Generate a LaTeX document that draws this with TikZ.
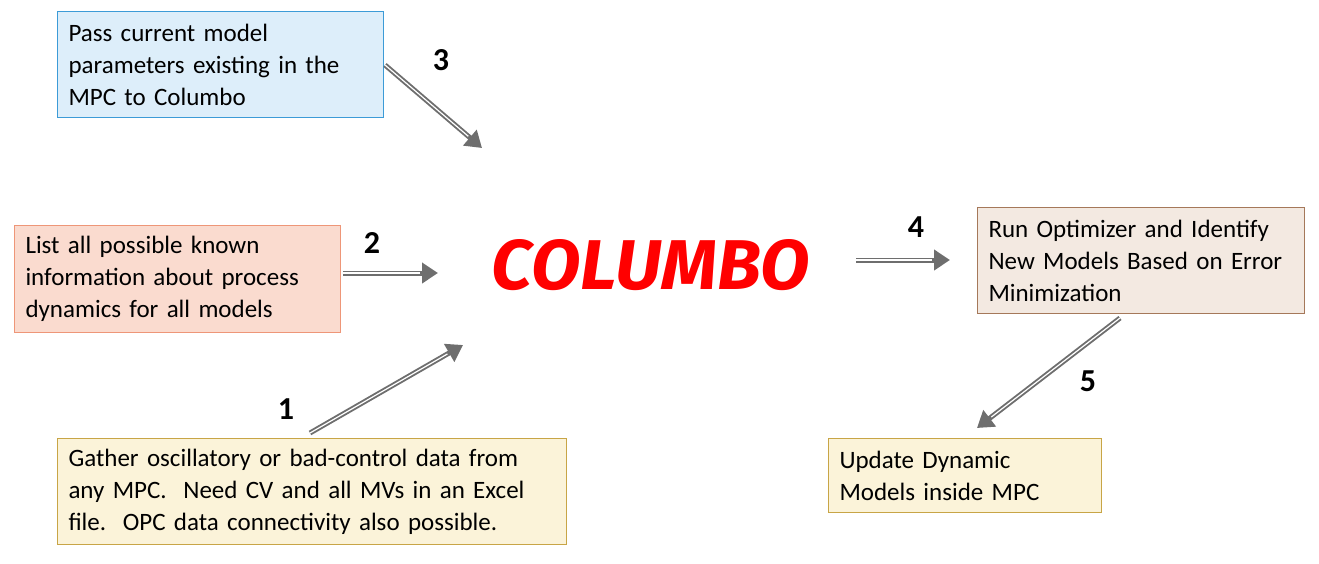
\documentclass[tikz,border=0pt]{standalone}
\usepackage{fontspec}
\setmainfont{Carlito}
\newfontfamily\colfont{Fira Sans}
\usetikzlibrary{arrows.meta}
\definecolor{gline}{HTML}{6E6E6E}
\tikzset{
  box/.style={draw, line width=1pt, anchor=north west, align=left, inner xsep=11pt, inner ysep=4pt, font=\fontsize{25}{32}\selectfont},
  num/.style={font=\fontsize{32}{32}\selectfont\bfseries},
  flow/.style={gline, line width=5pt, -{Triangle[length=16pt,width=20pt]}, shorten >=0pt},
  flowin/.style={white, line width=1.2pt}
}
\begin{document}
\begin{tikzpicture}[x=1pt,y=-1pt]
\useasboundingbox (0,0) rectangle (1319,563);
\node[box, fill={rgb,255:red,221;green,238;blue,250}, draw={rgb,255:red,60;green,155;blue,215}, text width=304pt, minimum height=106pt] (b3) at (57,11) {Pass current model\\parameters existing in the\\MPC to Columbo};
\node[box, fill={rgb,255:red,250;green,219;blue,207}, draw={rgb,255:red,238;green,150;blue,120}, text width=304pt, minimum height=107pt] (b2) at (14,225) {List all possible known\\information about process\\dynamics for all models};
\node[box, fill={rgb,255:red,251;green,243;blue,217}, draw={rgb,255:red,200;green,165;blue,70}, text width=487pt, minimum height=106pt] (b1) at (57,438) {Gather oscillatory or bad-control data from\\any MPC.\ \ Need CV and all MVs in an Excel\\file.\ \ OPC data connectivity also possible.};
\node[box, fill={rgb,255:red,243;green,233;blue,225}, draw={rgb,255:red,165;green,120;blue,90}, text width=305pt, minimum height=106pt] (b4) at (977,207) {Run Optimizer and Identify\\New Models Based on Error\\Minimization};
\node[box, fill={rgb,255:red,251;green,243;blue,217}, draw={rgb,255:red,200;green,165;blue,70}, text width=251pt, minimum height=74pt] (b5) at (828,438) {Update Dynamic\\Models inside MPC};
\node[text=red] (col) at (651,265) {\resizebox{318pt}{50pt}{\colfont\bfseries\itshape COLUMBO}};
\coordinate (s3) at (385,65); \coordinate (e3) at (482,148);
\coordinate (s2) at (343,273); \coordinate (e2) at (438,273);
\coordinate (s1) at (310,433); \coordinate (e1) at (463,345);
\coordinate (s4) at (856,260); \coordinate (e4) at (950,260);
\coordinate (s5) at (1120,318); \coordinate (e5) at (977,428);
\foreach \a in {1,...,5}{
  \draw[flow] (s\a) -- (e\a);
  \draw[flowin, shorten >=18pt] (s\a) -- (e\a);
}
\node[num] (n3) at (441,60) {3};
\node[num] (n2) at (372,243) {2};
\node[num] (n1) at (286,409) {1};
\node[num] (n4) at (916,227) {4};
\node[num] (n5) at (1088,381) {5};
\end{tikzpicture}
\end{document}
